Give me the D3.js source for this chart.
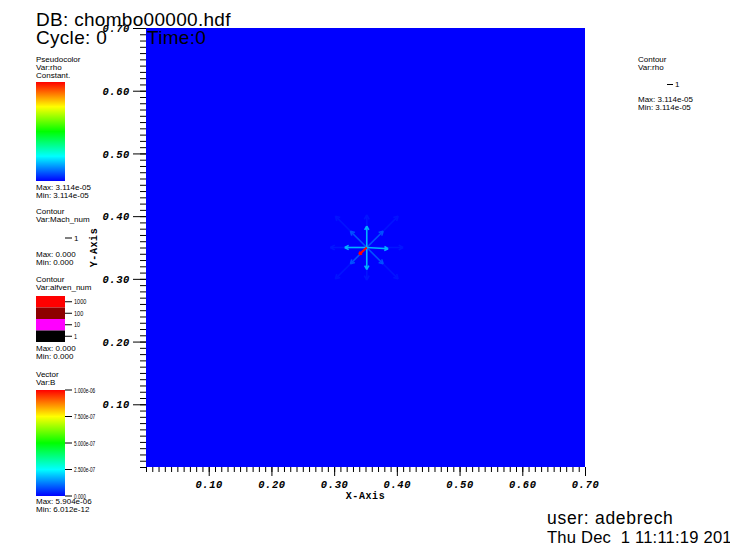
<!DOCTYPE html>
<html><head><meta charset="utf-8">
<script src="https://cdn.jsdelivr.net/npm/d3@7"></script>
<style>
html,body{margin:0;padding:0;background:#fff;}
svg{display:block;}
</style></head>
<body>
<svg id="c" width="730" height="551"></svg>
<script>
// ---------- data ----------
const xTickValues = [0.10, 0.20, 0.30, 0.40, 0.50, 0.60, 0.70];
const yTickValues = [0.10, 0.20, 0.30, 0.40, 0.50, 0.60, 0.70];
// vector glyphs: tail position (data units), components (data units), magnitude
const vecX   = [0.352,0.352,0.352,0.352,0.352,0.352,0.352,0.352, 0.352,0.352,0.352,0.352, 0.352,0.352,0.352,0.352, 0.352];
const vecY   = [0.350,0.350,0.350,0.350,0.350,0.350,0.350,0.350, 0.350,0.350,0.350,0.350, 0.350,0.350,0.350,0.350, 0.350];
const vecU   = [0.000,0.000,-0.058,0.058, 0.050,-0.050,0.050,-0.050, 0.026,-0.026,0.026,-0.026, 0.000,0.000,-0.035,0.034, -0.012];
const vecV   = [0.052,-0.052,0.000,0.000, 0.050,0.050,-0.050,-0.050, 0.026,0.026,-0.026,-0.026, 0.034,-0.035,0.000,-0.002, -0.011];
const vecMag = [2.0e-8,2.0e-8,2.0e-8,2.0e-8, 1.8e-8,1.8e-8,1.8e-8,1.8e-8, 8.0e-8,8.0e-8,8.0e-8,8.0e-8, 1.75e-7,1.75e-7,1.75e-7,1.75e-7, 1.0e-6];
const alfvenLevels = ["1000","100","10","1"];
const alfvenColors = ["#ff0000","#8e0000","#ff00ff","#000000"];
const vectorTickLabels = ["1.000e-06","7.500e-07","5.000e-07","2.500e-07","0.000"];
const vectorTickValues = [1.0e-6, 7.5e-7, 5.0e-7, 2.5e-7, 0];
const rhoValue = "3.114e-05";

// ---------- setup ----------
const svg = d3.select("#c");
const x = d3.scaleLinear().domain([0,0.7]).range([146,585]);
const y = d3.scaleLinear().domain([0,0.7]).range([467,28]);
const hot = d3.scaleLinear().domain([0,0.25e-6,0.5e-6,0.75e-6,1e-6])
  .range(["#0000ff","#00ffff","#00ff00","#ffff00","#ff0000"]).clamp(true);
const sans = "'Liberation Sans', Arial, sans-serif";
const mono = "'Liberation Mono', 'Courier New', monospace";

// plot background (constant pseudocolor -> min color)
svg.append("rect").attr("x",x(0)).attr("y",y(0.7))
  .attr("width",x(0.7)-x(0)).attr("height",y(0)-y(0.7)).attr("fill","#0000ff");

// vectors
const vg = svg.append("g").attr("stroke-linecap","butt").attr("fill","none");
vecX.forEach((vx,i)=>{
  const x0=x(vx), y0=y(vecY[i]), x1=x(vx+vecU[i]), y1=y(vecY[i]+vecV[i]);
  const col = hot(vecMag[i]);
  const w = vecMag[i]>=1e-6?2:1.6;
  vg.append("line").attr("x1",x0).attr("y1",y0).attr("x2",x1).attr("y2",y1)
    .attr("stroke",col).attr("stroke-width",w);
  const ang=Math.atan2(y1-y0,x1-x0), L=Math.hypot(x1-x0,y1-y0);
  const h=Math.min(5,Math.max(3,L*0.2));
  [0.5,-0.5].forEach(a=>{
    vg.append("line").attr("x1",x1).attr("y1",y1)
      .attr("x2",x1-h*Math.cos(ang+a)).attr("y2",y1-h*Math.sin(ang+a))
      .attr("stroke",col).attr("stroke-width",w);
  });
});

// ---------- axes ----------
function styleTicks(g){ g.select(".domain").remove(); g.selectAll("line").attr("stroke","#000"); }
const minor = d3.range(0,71).map(d=>d/100);
svg.append("g").attr("transform",`translate(0,${y(0)})`)
  .call(d3.axisBottom(x).tickValues(minor).tickSize(5).tickFormat(""))
  .call(styleTicks);
svg.append("g").attr("transform",`translate(${x(0)},0)`)
  .call(d3.axisLeft(y).tickValues(minor).tickSize(6).tickFormat(""))
  .call(styleTicks);
const xa = svg.append("g").attr("transform",`translate(0,${y(0)})`)
  .call(d3.axisBottom(x).tickValues(xTickValues).tickSize(9).tickFormat(d3.format(".2f")))
  .call(styleTicks);
xa.selectAll("text").attr("y",21).attr("dy",0).attr("fill","#000")
  .style("font-family",mono).style("font-weight","bold").style("font-style","italic")
  .style("font-size","10.5px").style("letter-spacing","0.6px");
const ya = svg.append("g").attr("transform",`translate(${x(0)},0)`)
  .call(d3.axisLeft(y).tickValues(yTickValues).tickSize(13).tickFormat(d3.format(".2f")))
  .call(styleTicks);
ya.selectAll("text").attr("x",-16).attr("dy","0.35em").attr("fill","#000")
  .style("font-family",mono).style("font-weight","bold").style("font-style","italic")
  .style("font-size","10.5px").style("letter-spacing","0.6px");

svg.append("text").attr("x",(x(0)+x(0.7))/2).attr("y",499).attr("text-anchor","middle")
  .style("font-family",mono).style("font-weight","bold").style("font-size","10px")
  .style("letter-spacing","0.6px").text("X-Axis");
svg.append("text").attr("transform",`translate(97,${(y(0)+y(0.7))/2}) rotate(-90)`)
  .attr("text-anchor","middle")
  .style("font-family",mono).style("font-weight","bold").style("font-size","10px")
  .style("letter-spacing","0.6px").text("Y-Axis");

// ---------- titles ----------
function txt(xp,yp,s,size,ls){
  const t=svg.append("text").attr("x",xp).attr("y",yp).attr("fill","#000")
    .style("font-family",sans).style("font-size",size+"px").text(s);
  if(ls) t.style("letter-spacing",ls+"px");
  return t;
}
txt(36,26,"DB: chombo00000.hdf",19,0.3);
txt(36,44,"Cycle: 0",19,0.3);
txt(147,44,"Time:0",19,0.3);
txt(547,524,"user: adebrech",17.5,0.7);
txt(547,543,"Thu Dec  1 11:11:19 2011",16.6,0.2).style("white-space","pre");

// ---------- legends ----------
const LS=8;
const defs=svg.append("defs");
function hotGrad(id){
  const g=defs.append("linearGradient").attr("id",id).attr("x1",0).attr("y1",1).attr("x2",0).attr("y2",0);
  hot.domain().forEach((d,i)=>g.append("stop").attr("offset",i/4).attr("stop-color",hot.range()[i]));
}
hotGrad("hotg");

// Pseudocolor
txt(36,62,"Pseudocolor",LS); txt(36,70,"Var:rho",LS); txt(36,78,"Constant.",LS);
svg.append("rect").attr("x",36).attr("y",82).attr("width",29).attr("height",99).attr("fill","url(#hotg)");
txt(36,190,"Max: "+rhoValue,LS); txt(36,198,"Min: "+rhoValue,LS);

// Contour Mach_num
txt(36,214,"Contour",LS); txt(36,222,"Var:Mach_num",LS);
svg.append("line").attr("x1",65).attr("x2",72).attr("y1",238).attr("y2",238).attr("stroke","#000");
txt(74,240.5,"1",LS);
txt(36,257,"Max: 0.000",LS); txt(36,265,"Min: 0.000",LS);

// Contour alfven_num
txt(36,282,"Contour",LS); txt(36,290,"Var:alfven_num",LS);
const sw = d3.scaleBand().domain(alfvenLevels).range([296,342]);
alfvenLevels.forEach((lv,i)=>{
  svg.append("rect").attr("x",36).attr("y",sw(lv)).attr("width",29).attr("height",sw.bandwidth()).attr("fill",alfvenColors[i]);
  const cy=sw(lv)+sw.bandwidth()/2;
  svg.append("line").attr("x1",65).attr("x2",72).attr("y1",cy).attr("y2",cy).attr("stroke","#000");
  txt(74,cy+2.7,lv,7.5).attr("textLength",lv.length*3.1).attr("lengthAdjust","spacingAndGlyphs");
});
txt(36,351,"Max: 0.000",LS); txt(36,359,"Min: 0.000",LS);

// Vector
txt(36,377,"Vector",LS); txt(36,385,"Var:B",LS);
const vb = d3.scaleLinear().domain([0,1e-6]).range([496,390]);
svg.append("rect").attr("x",36).attr("y",390).attr("width",29).attr("height",106).attr("fill","url(#hotg)");
vectorTickValues.forEach((v,i)=>{
  const cy=vb(v);
  svg.append("line").attr("x1",65).attr("x2",72).attr("y1",cy).attr("y2",cy).attr("stroke","#000");
  const lab=vectorTickLabels[i];
  txt(74,cy+2.7,lab,7.5).attr("textLength",lab.length*2.35).attr("lengthAdjust","spacingAndGlyphs");
});
txt(36,504,"Max: 5.904e-06",LS); txt(36,512,"Min: 6.012e-12",LS);

// Right legend: Contour rho
txt(638,62,"Contour",LS); txt(638,70,"Var:rho",LS);
svg.append("line").attr("x1",667).attr("x2",673).attr("y1",84.5).attr("y2",84.5).attr("stroke","#000");
txt(675,87,"1",LS);
txt(638,102,"Max: "+rhoValue,LS); txt(638,110,"Min: "+rhoValue,LS);
</script>
</body></html>
